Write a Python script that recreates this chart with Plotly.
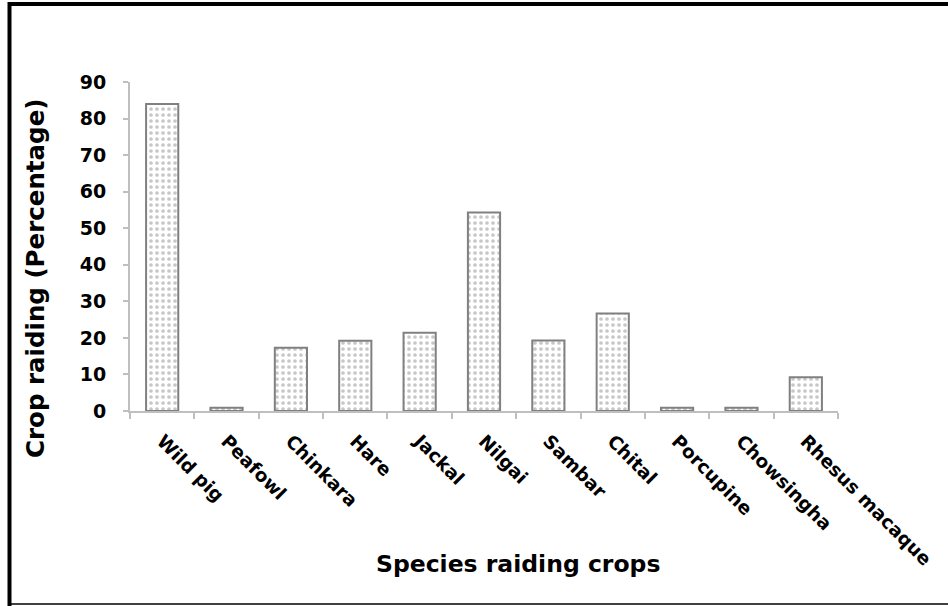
import plotly.graph_objects as go

species = ["Wild pig", "Peafowl", "Chinkara", "Hare", "Jackal", "Nilgai",
           "Sambar", "Chital", "Porcupine", "Chowsingha", "Rhesus macaque"]
raiding_pct = [84.0, 0.9, 17.3, 19.2, 21.4, 54.3, 19.3, 26.7, 0.9, 0.9, 9.2]
y_ticks = [0, 10, 20, 30, 40, 50, 60, 70, 80, 90]

W, H = 948, 606
L, R, T, B = 130, 110, 82, 195
pw, ph = W - L - R, H - T - B

def px(x):
    return (x - L) / pw

def py(y):
    return (H - B - y) / ph

FONT = "DejaVu Sans"
AX = "#bfbfbf"

fig = go.Figure(go.Bar(
    x=species, y=raiding_pct, width=0.5,
    marker=dict(color="white",
                line=dict(color="#808080", width=2),
                pattern=dict(shape=".", fgcolor="#909090", bgcolor="white",
                             size=6, solidity=0.3)),
))

fig.update_layout(
    width=W, height=H,
    margin=dict(l=L, r=R, t=T, b=B, autoexpand=False),
    paper_bgcolor="white", plot_bgcolor="white",
    showlegend=False,
    font=dict(family=FONT, color="black"),
    xaxis=dict(showline=True, linecolor=AX, linewidth=2,
               ticks="outside", tickcolor=AX, ticklen=6, tickwidth=2,
               tickson="boundaries", showgrid=False, tickangle=45,
               ticklabelstandoff=10,
               tickfont=dict(family=FONT, size=18.5, color="black", weight="bold"),
               range=[-0.5, 10.5]),
    yaxis=dict(showline=True, linecolor=AX, linewidth=2, range=[0, 90],
               tickvals=y_ticks, ticks="outside", tickcolor=AX, ticklen=5,
               tickwidth=2, showgrid=False, zeroline=False,
               ticklabelstandoff=13,
               tickfont=dict(family=FONT, size=19, color="black", weight="bold")),
    annotations=[
        dict(text="<b>Species raiding crops</b>", xref="paper", yref="paper",
             x=px(518), y=py(564), showarrow=False, xanchor="center", yanchor="middle",
             font=dict(family=FONT, size=23.5, color="black")),
        dict(text="<b>Crop raiding (Percentage)</b>", xref="paper", yref="paper",
             x=px(35), y=py(279), showarrow=False, textangle=-90,
             xanchor="center", yanchor="middle",
             font=dict(family=FONT, size=24.5, color="black")),
    ],
    shapes=[
        dict(type="line", xref="paper", yref="paper", x0=px(9.5), x1=px(9.5),
             y0=py(2), y1=py(606), line=dict(color="black", width=4)),
        dict(type="line", xref="paper", yref="paper", x0=px(8), x1=px(950),
             y0=py(4), y1=py(4), line=dict(color="black", width=4)),
        dict(type="line", xref="paper", yref="paper", x0=px(8), x1=px(950),
             y0=py(604), y1=py(604), line=dict(color="black", width=1.5)),
    ],
)

fig.write_html("out.html", config={"displayModeBar": False},
               post_script="document.body.style.margin='0';document.body.style.overflow='hidden';")
